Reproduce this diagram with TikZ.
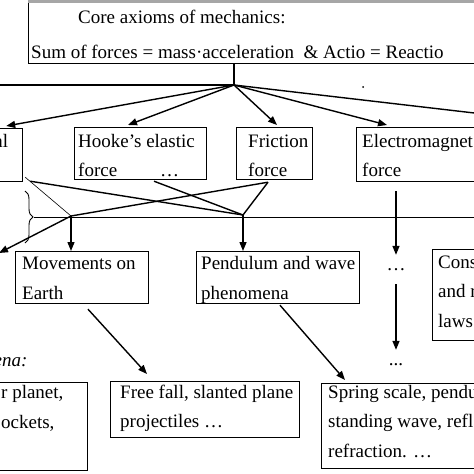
\documentclass[tikz,border=0pt]{standalone}
\usepackage{fontspec}
\setmainfont{Liberation Serif}
\usetikzlibrary{arrows.meta,calc,decorations.pathreplacing}
\begin{document}
\begin{tikzpicture}[x=1pt,y=-1pt,
  box/.style={draw, line width=1.2pt, inner sep=0pt, anchor=north west},
  txt/.style={anchor=base west, align=left, inner sep=0pt, font=\fontsize{19}{29.5}\selectfont},
  arr/.style={line width=1.4pt, -{Triangle[length=9pt,width=7pt]}},
  ln/.style={line width=1.4pt},
  thinln/.style={line width=0.6pt}]
\useasboundingbox (0,0) rectangle (474,474);
\clip (0,0) rectangle (474,474);

% boxes
\node[box, minimum width=460pt, minimum height=64pt] (top) at (28,-1) {};
\fill[gray!70] (28,0) rectangle (476,2.5);
\node[box, minimum width=32pt, minimum height=53pt] (grav) at (-10,128) {};
\node[box, minimum width=132pt, minimum height=52pt] (hooke) at (74,127) {};
\node[box, minimum width=76pt, minimum height=52pt] (fric) at (236,127) {};
\node[box, minimum width=130pt, minimum height=54pt] (em) at (356,127) {};
\node[box, minimum width=133pt, minimum height=52pt] (mov) at (15,251) {};
\node[box, minimum width=163pt, minimum height=52pt] (pend) at (196,251) {};
\node[box, minimum width=60pt, minimum height=91pt] (cons) at (432,249) {};
\node[box, minimum width=97pt, minimum height=88pt] (bl) at (-10,382) {};
\node[box, minimum width=189pt, minimum height=56pt] (ff) at (110,381) {};
\node[box, minimum width=170pt, minimum height=85pt] (spring) at (321,383) {};

% texts (multi-line texts are anchored at the baseline of their last line)
\node[txt] (topA) at (78,23) {Core axioms of mechanics:};
\node[txt] (topB) at (31,58) {Sum of forces = mass·acceleration\ \ \& Actio = Reactio};
\node[txt] (gravT) at (-5.7,147) {al};
\node[txt] (hookeT) at (78,176.5) {Hooke’s elastic\\force\hspace{43pt}…};
\node[txt] (fricT) at (248,176.5) {Friction\\force};
\node[txt] (emT) at (362,176.5) {Electromagnet\\force};
\node[txt] (movT) at (22,299) {Movements on\\Earth};
\node[txt] (pendT) at (201,299) {Pendulum and wave\\phenomena};
\node[txt] (consT) at (438,327) {Cons\\and r\\laws};
\node[txt, anchor=base] (dotsA) at (396,270) {…};
\node[txt, anchor=base] (dotsB) at (396,365) {...};
\node[txt, font=\fontsize{19}{29.5}\selectfont\itshape] (enaT) at (-6.5,366) {ena:};
\node[txt] (blT) at (1,428) {r planet,\\ockets,};
\node[txt] (ffT) at (120,427.5) {Free fall, slanted plane\\projectiles …};
\node[txt] (springT) at (328,457) {Spring scale, pendu\\standing wave, refl\\refraction. …};
\node[circle, fill, inner sep=0pt, minimum size=2pt] (dot) at (363,87) {};

% connectors
\coordinate (j0) at (234,85);
\coordinate (lend) at (-2,85);
\coordinate (rend) at (476,113.2);
\coordinate (j1) at (243,215);
\coordinate (j2) at (71,216);
\coordinate (lft) at (-1,253);
\coordinate (brA) at (25,191);
\coordinate (brB) at (25,243);
\coordinate (brtip) at (34,217);
\coordinate (hr) at (476,217);

\draw[ln] (top.south west -| j0) -- (j0) -- (lend);
\draw[arr] (j0) -- ($(grav.north east)+(-17,-2)$);
\draw[arr] (j0) -- ($(hooke.north west)+(54,-2)$);
\draw[arr] (j0) -- ($(fric.north west)+(41,-2)$);
\draw[arr] (j0) -- ($(em.north west)+(31,-2)$);
\draw[ln] (j0) -- (rend);

\draw[ln] ($(grav.south east)+(7,-1)$) -- (j1);
\draw[thinln] ($(grav.south east)+(2,-5)$) -- (j2);
\draw[ln] ($(hooke.south west)+(80,1)$) -- (j1);
\draw[ln] ($(fric.south west)+(32,2)$) -- (j2);
\draw[ln] ($(fric.south west)+(32,2)$) -- (j1);
\draw[arr] (j2) -- (mov.north west -| j2);
\draw[arr] (j2) -- (lft);
\draw[arr] (j1) -- (pend.north west -| j1);

\draw[line width=0.9pt, decorate, decoration={brace, amplitude=8pt}] (brA) -- (brB);
\draw[line width=1pt] (brtip) -- (hr);

\draw[arr, shorten >=13pt] ($(em.south west)+(40,9)$) -- (dotsA);
\draw[arr, shorten <=14pt, shorten >=13pt] (dotsA) -- (dotsB);

\draw[arr] ($(mov.south west)+(73,5)$) -- ($(ff.north west)+(37,-7)$);
\draw[arr] ($(pend.south west)+(84,1)$) -- ($(spring.north west)+(24,-3)$);
\end{tikzpicture}
\end{document}
